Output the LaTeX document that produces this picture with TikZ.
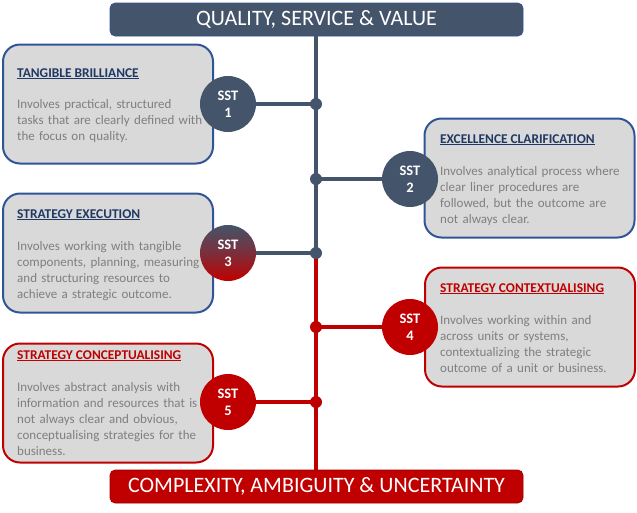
\documentclass[tikz,border=0pt]{standalone}
\usepackage{fontspec}
\setmainfont{Carlito}[BoldFont={Carlito Bold}]
\definecolor{slate}{HTML}{44546A}
\definecolor{sred}{HTML}{C00000}
\definecolor{bblue}{HTML}{2F5597}
\definecolor{boxfill}{HTML}{D9D9D9}
\definecolor{bodygray}{HTML}{7F7F7F}
\definecolor{navy}{HTML}{203864}
\tikzset{
  banner/.style={rounded corners=5pt, minimum width=413pt, minimum height=33pt, inner sep=0pt,
     text=white, font=\fontsize{22}{24}\selectfont},
  infobox/.style={rounded corners=17pt, fill=boxfill, line width=2pt, minimum width=210pt, minimum height=119pt, inner sep=0pt},
  sst/.style={circle, minimum size=56pt, inner sep=0pt, text=white, align=center,
     font=\bfseries\fontsize{14.5}{17}\selectfont},
  boxtitle/.style={anchor=base west, inner sep=0pt, font=\bfseries\fontsize{13.4}{14}\selectfont},
  boxbody/.style={anchor=base west, inner sep=0pt, text=bodygray, align=left, text width=200pt,
     font=\fontsize{13}{16}\selectfont},
  spine/.style={line width=4pt},
  dot/.style={circle, inner sep=0pt, minimum size=12pt},
}
\begin{document}
\begin{tikzpicture}[x=1pt,y=-1pt]
\useasboundingbox (0,0) rectangle (637,512);
% boxes
\node[infobox, draw=bblue] (b1) at (108,104) {};
\node[infobox, draw=bblue] (b2) at (529.5,178) {};
\node[infobox, draw=bblue] (b3) at (108,253) {};
\node[infobox, draw=sred] (b4) at (530,327) {};
\node[infobox, draw=sred] (b5) at (108,403) {};
% banners
\node[banner, fill=slate, draw=bblue, line width=0.6pt] (top) at (316.5,19.5) {QUALITY, SERVICE \& VALUE};
\node[banner, fill=sred, draw=sred!80!black, line width=0.6pt] (bot) at (316.5,486.5) {COMPLEXITY, AMBIGUITY \& UNCERTAINTY};
% spine coordinates
\coordinate (d1) at (316,104);
\coordinate (d2) at (316,179);
\coordinate (d3) at (316,253);
\coordinate (d4) at (316,327);
\coordinate (d5) at (316,402);
% circle positions
\coordinate (c1) at (228,104);
\coordinate (c2) at (410,179);
\coordinate (c3) at (228,253);
\coordinate (c4) at (410,327);
\coordinate (c5) at (228,402);
% spine
\draw[spine, slate] (top.south -| d1) -- (d3);
\draw[spine, sred] (d3) -- (bot.north -| d3);
\draw[spine, slate] (c1) -- (d1);
\draw[spine, slate] (c2) -- (d2);
\draw[spine, slate] (c3) -- (d3);
\draw[spine, sred] (c4) -- (d4);
\draw[spine, sred] (c5) -- (d5);
\node[dot, fill=slate] (p1) at (d1) {};
\node[dot, fill=slate] (p2) at (d2) {};
\node[dot, fill=slate] (p3) at (d3) {};
\node[dot, fill=sred] (p4) at (d4) {};
\node[dot, fill=sred] (p5) at (d5) {};
% circles
\node[sst, fill=slate] (s1) at (c1) {SST\\1};
\node[sst, fill=slate] (s2) at (c2) {SST\\2};
\node[sst, top color=slate, bottom color=sred, middle color=slate!55!sred] (s3) at (c3) {SST\\3};
\node[sst, fill=sred] (s4) at (c4) {SST\\4};
\node[sst, fill=sred] (s5) at (c5) {SST\\5};
% texts
\node[boxtitle, text=navy] (t1) at (17,77) {\underline{TANGIBLE BRILLIANCE}};
\node[boxbody] (x1) at (17,108) {Involves practical, structured\\tasks that are clearly defined with\\the focus on quality.};
\node[boxtitle, text=navy] (t2) at (440,143) {\underline{EXCELLENCE CLARIFICATION}};
\node[boxbody] (x2) at (440,175) {Involves analytical process where\\clear liner procedures are\\followed, but the outcome are\\not always clear.};
\node[boxtitle, text=navy] (t3) at (17,218) {\underline{STRATEGY EXECUTION}};
\node[boxbody] (x3) at (17,250) {Involves working with tangible\\components, planning, measuring\\and structuring resources to\\achieve a strategic outcome.};
\node[boxtitle, text=sred] (t4) at (440,292) {\underline{STRATEGY CONTEXTUALISING}};
\node[boxbody] (x4) at (440,324) {Involves working within and\\across units or systems,\\contextualizing the strategic\\outcome of a unit or business.};
\node[boxtitle, text=sred] (t5) at (17,359) {\underline{STRATEGY CONCEPTUALISING}};
\node[boxbody] (x5) at (17,391) {Involves abstract analysis with\\information and resources that is\\not always clear and obvious,\\conceptualising strategies for the\\business.};
\end{tikzpicture}
\end{document}
